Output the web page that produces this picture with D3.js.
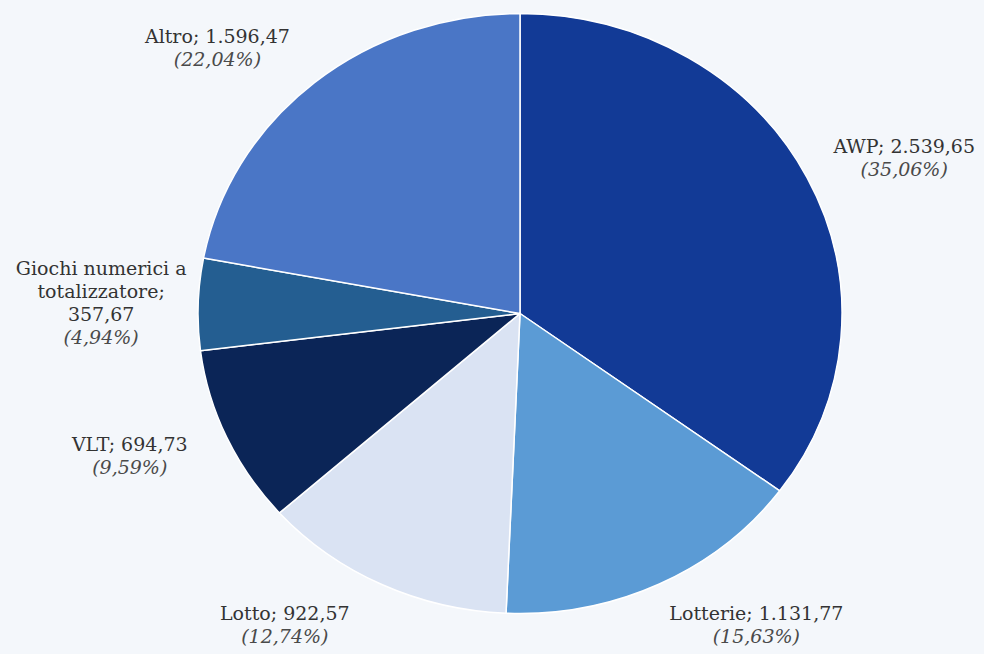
<!DOCTYPE html>
<html>
<head>
<meta charset="utf-8">
<script src="https://cdn.jsdelivr.net/npm/d3@7"></script>
<style>
  html, body { margin: 0; padding: 0; background: #f4f7fb; }
  svg { display: block; }
  .lbl { font-family: "DejaVu Serif", "Liberation Serif", serif; font-size: 19px; }
</style>
</head>
<body>
<svg id="chart" width="984" height="654"></svg>
<script>
// Raccolta per tipologia di gioco (milioni di euro)
const categories = ["AWP", "Lotterie", "Lotto", "VLT", "Giochi numerici a totalizzatore", "Altro"];
const values = [2539.65, 1131.77, 922.57, 694.73, 357.67, 1596.47];
const colors = ["#123a96", "#5b9bd5", "#dae3f3", "#0b2557", "#245e91", "#4a76c6"];

const W = 984, H = 654;
const cx = 520, cy = 313.5;
const rx = 322, ry = 300;          // slightly oval pie
const lineH = 23;
const wrapWidth = 185;
const stretch = 1.0;

const it = d3.formatLocale({ decimal: ",", thousands: ".", grouping: [3], currency: ["€", ""] });
const fmtVal = it.format(",.2f");
const fmtPct = it.format(".2f");
const total = d3.sum(values);

const data = categories.map((c, i) => ({ name: c, value: values[i], color: colors[i] }));

const svg = d3.select("#chart");
svg.append("rect").attr("width", W).attr("height", H).attr("fill", "#f4f7fb");

const pie = d3.pie().sort(null).value(d => d.value).startAngle(0).endAngle(2 * Math.PI);
const arcs = pie(data);
const arc = d3.arc().innerRadius(0).outerRadius(ry);

const g = svg.append("g").attr("transform", `translate(${cx},${cy}) scale(${rx / ry},1)`);
g.selectAll("path")
  .data(arcs)
  .join("path")
  .attr("d", arc)
  .attr("fill", d => d.data.color)
  .attr("stroke", "#ffffff")
  .attr("stroke-width", 1.5)
  .attr("vector-effect", "non-scaling-stroke")
  .attr("stroke-linejoin", "round");

// word wrap helper measuring with an SVG text node
const probe = svg.append("text").attr("class", "lbl").attr("x", -1000).attr("y", -1000);
function textWidth(t) { probe.text(t); return probe.node().getComputedTextLength() * stretch; }
function wrap(text) {
  const words = text.split(" ");
  const lines = [];
  let cur = "";
  words.forEach(w => {
    const test = cur ? cur + " " + w : w;
    if (cur && textWidth(test) > wrapWidth) {
      lines.push(cur);
      cur = w;
    } else cur = test;
  });
  if (cur) lines.push(cur);
  return lines;
}

const labels = svg.append("g").attr("class", "labels");
arcs.forEach(a => {
  const mid = (a.startAngle + a.endAngle) / 2;
  const s = Math.sin(mid), c = Math.cos(mid);
  // point on the rim at the slice's middle angle
  const px = cx + rx * s, py = cy - ry * c;
  const lx = px + Math.sign(s) * 97;
  const ly = py - c * 45;

  const lines = wrap(`${a.data.name}; ${fmtVal(a.data.value)}`);
  const pct = `(${fmtPct(a.data.value / total * 100)}%)`;
  const all = lines.map(t => ({ t, italic: false })).concat([{ t: pct, italic: true }]);
  const n = all.length;

  all.forEach((ln, i) => {
    const y = ly + (i - (n - 1) / 2) * lineH;
    labels.append("text")
      .attr("class", "lbl")
      .attr("transform", `translate(${lx},${y}) scale(${stretch},1)`)
      .attr("dy", "0.35em")
      .attr("text-anchor", "middle")
      .attr("font-style", ln.italic ? "italic" : "normal")
      .attr("fill", ln.italic ? "#4a4a4a" : "#333333")
      .text(ln.t);
  });
});
probe.remove();
</script>
</body>
</html>
